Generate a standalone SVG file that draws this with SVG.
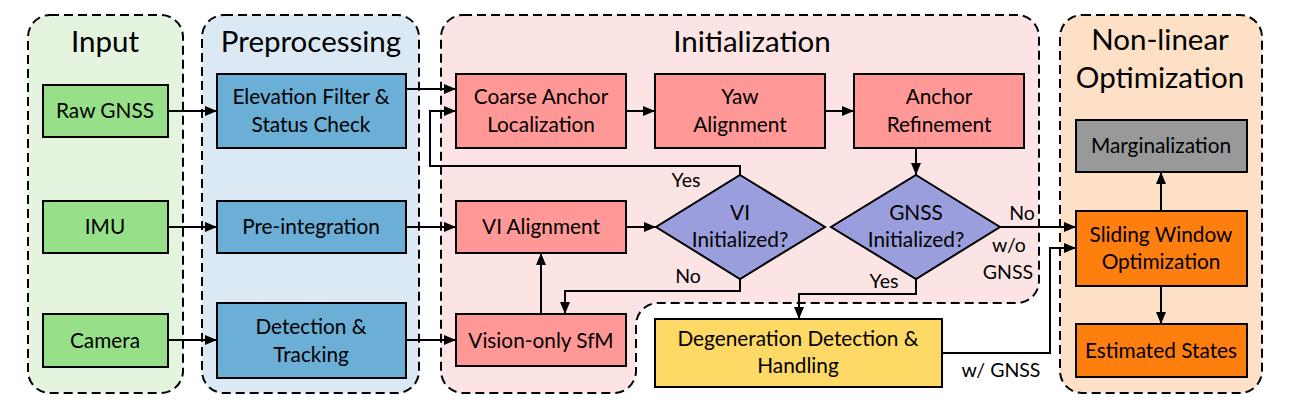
<svg xmlns="http://www.w3.org/2000/svg" width="1301" height="411" viewBox="0 0 1301 411">
<defs>
<style>
.region{stroke:#000;stroke-width:2;stroke-dasharray:9,5}
.box{stroke:#000;stroke-width:2}
.t{font-family:Lato,"Open Sans","Liberation Sans",sans-serif;font-size:20.8px;fill:#000;text-anchor:middle}
.title{font-family:Lato,"Open Sans","Liberation Sans",sans-serif;font-size:29.5px;fill:#000;text-anchor:middle}
.lbl{font-family:Lato,"Open Sans","Liberation Sans",sans-serif;font-size:19.5px;fill:#000;text-anchor:middle}
.c{fill:none;stroke:#000;stroke-width:2}
.green{fill:#98df8a}
.blue{fill:#6baed6}
.pink{fill:#ff9896}
.purple{fill:#9b9edc}
.yellow{fill:#ffd966}
.gray{fill:#999999}
.orange{fill:#ff7f0e}
</style>
<marker id="ah" markerWidth="12" markerHeight="10" refX="12" refY="5" orient="auto" markerUnits="userSpaceOnUse">
<path d="M0,0 L12,5 L0,10 z" fill="#000"/>
</marker>
</defs>
<rect width="1301" height="411" fill="#fff"/>

<g id="regions">
<g id="region-input">
<rect class="region" x="28" y="15" width="155" height="378" rx="22" fill="#e4f4df"/>
<text class="title" x="105" y="52">Input</text>
</g>
<g id="region-preprocessing">
<rect class="region" x="202" y="15" width="217" height="378" rx="22" fill="#dbe9f4"/>
<text class="title" x="311" y="52">Preprocessing</text>
</g>
<g id="region-initialization">
<path class="region" fill="#fde4e4" d="M463,15 L1017,15 A22,22 0 0 1 1039,37 L1039,281 A22,22 0 0 1 1017,303 L658,303 A22,22 0 0 0 636,325 L636,371 A22,22 0 0 1 614,393 L463,393 A22,22 0 0 1 441,371 L441,37 A22,22 0 0 1 463,15 Z"/>
<text class="title" x="752" y="52">Initialization</text>
</g>
<g id="region-optimization">
<rect class="region" x="1060" y="15" width="202" height="378" rx="22" fill="#fde0c5"/>
<text class="title" x="1160" y="50">Non-linear</text>
<text class="title" x="1160" y="88">Optimization</text>
</g>
</g>

<g id="connectors">
<line class="c" x1="168" y1="111" x2="217" y2="111" marker-end="url(#ah)"/>
<line class="c" x1="168" y1="227" x2="217" y2="227" marker-end="url(#ah)"/>
<line class="c" x1="168" y1="340" x2="217" y2="340" marker-end="url(#ah)"/>
<line class="c" x1="406" y1="89" x2="456" y2="89" marker-end="url(#ah)"/>
<polyline class="c" points="740,175 740,166 430,166 430,111 456,111" marker-end="url(#ah)"/>
<line class="c" x1="406" y1="227" x2="456" y2="227" marker-end="url(#ah)"/>
<line class="c" x1="406" y1="340" x2="456" y2="340" marker-end="url(#ah)"/>
<line class="c" x1="626" y1="111" x2="655" y2="111" marker-end="url(#ah)"/>
<line class="c" x1="825" y1="111" x2="854" y2="111" marker-end="url(#ah)"/>
<line class="c" x1="916" y1="148" x2="916" y2="175" marker-end="url(#ah)"/>
<line class="c" x1="626" y1="227" x2="656" y2="227" marker-end="url(#ah)"/>
<polyline class="c" points="740,279 740,291 565,291 565,314" marker-end="url(#ah)"/>
<line class="c" x1="541" y1="314" x2="541" y2="253" marker-end="url(#ah)"/>
<line class="c" x1="1000" y1="227" x2="1076" y2="227" marker-end="url(#ah)"/>
<polyline class="c" points="916,279 916,294 799,294 799,319" marker-end="url(#ah)"/>
<polyline class="c" points="942,353 1050,353 1050,248 1076,248" marker-end="url(#ah)"/>
<line class="c" x1="1161" y1="211" x2="1161" y2="172" marker-end="url(#ah)"/>
<line class="c" x1="1161" y1="286" x2="1161" y2="324" marker-end="url(#ah)"/>
<text class="lbl" x="686" y="187">Yes</text>
<text class="lbl" x="688" y="283">No</text>
<text class="lbl" x="884" y="288">Yes</text>
<text class="lbl" x="1022" y="220">No</text>
<text class="lbl" x="1009" y="252">w/o</text>
<text class="lbl" x="1008" y="279">GNSS</text>
<text class="lbl" x="1001" y="377">w/ GNSS</text>
</g>

<g id="node-raw-gnss">
<rect class="box green" x="43" y="85" width="125" height="52"/>
<text class="t" x="105" y="118">Raw GNSS</text>
</g>
<g id="node-imu">
<rect class="box green" x="43" y="201" width="125" height="52"/>
<text class="t" x="105" y="234">IMU</text>
</g>
<g id="node-camera">
<rect class="box green" x="43" y="314" width="125" height="53"/>
<text class="t" x="105" y="348">Camera</text>
</g>
<g id="node-elevation">
<rect class="box blue" x="217" y="74" width="189" height="74"/>
<text class="t" x="311" y="104">Elevation Filter &amp;</text>
<text class="t" x="311" y="132">Status Check</text>
</g>
<g id="node-preintegration">
<rect class="box blue" x="217" y="201" width="189" height="52"/>
<text class="t" x="311" y="234">Pre-integration</text>
</g>
<g id="node-detection">
<rect class="box blue" x="217" y="303" width="189" height="75"/>
<text class="t" x="311" y="334">Detection &amp;</text>
<text class="t" x="311" y="362">Tracking</text>
</g>
<g id="node-coarse-anchor">
<rect class="box pink" x="456" y="74" width="170" height="74"/>
<text class="t" x="541" y="104">Coarse Anchor</text>
<text class="t" x="541" y="132">Localization</text>
</g>
<g id="node-yaw">
<rect class="box pink" x="655" y="74" width="170" height="74"/>
<text class="t" x="740" y="104">Yaw</text>
<text class="t" x="740" y="132">Alignment</text>
</g>
<g id="node-anchor-refinement">
<rect class="box pink" x="854" y="74" width="170" height="74"/>
<text class="t" x="939" y="104">Anchor</text>
<text class="t" x="939" y="132">Refinement</text>
</g>
<g id="node-vi-alignment">
<rect class="box pink" x="456" y="201" width="170" height="52"/>
<text class="t" x="541" y="234">VI Alignment</text>
</g>
<g id="node-sfm">
<rect class="box pink" x="456" y="314" width="170" height="52"/>
<text class="t" x="541" y="348">Vision-only SfM</text>
</g>
<g id="node-vi-initialized">
<polygon class="box purple" points="740,175 825,227 740,279 656,227"/>
<text class="t" x="740" y="220">VI</text>
<text class="t" x="740" y="247">Initialized?</text>
</g>
<g id="node-gnss-initialized">
<polygon class="box purple" points="916,175 1000,227 916,279 831,227"/>
<text class="t" x="916" y="220">GNSS</text>
<text class="t" x="916" y="247">Initialized?</text>
</g>
<g id="node-degeneration">
<rect class="box yellow" x="655" y="319" width="287" height="68"/>
<text class="t" x="798" y="346">Degeneration Detection &amp;</text>
<text class="t" x="798" y="373">Handling</text>
</g>
<g id="node-marginalization">
<rect class="box gray" x="1076" y="120" width="171" height="52"/>
<text class="t" x="1161" y="153">Marginalization</text>
</g>
<g id="node-sliding-window">
<rect class="box orange" x="1076" y="211" width="171" height="75"/>
<text class="t" x="1161" y="242">Sliding Window</text>
<text class="t" x="1161" y="269">Optimization</text>
</g>
<g id="node-estimated-states">
<rect class="box orange" x="1076" y="324" width="171" height="53"/>
<text class="t" x="1161" y="358">Estimated States</text>
</g>
</svg>
